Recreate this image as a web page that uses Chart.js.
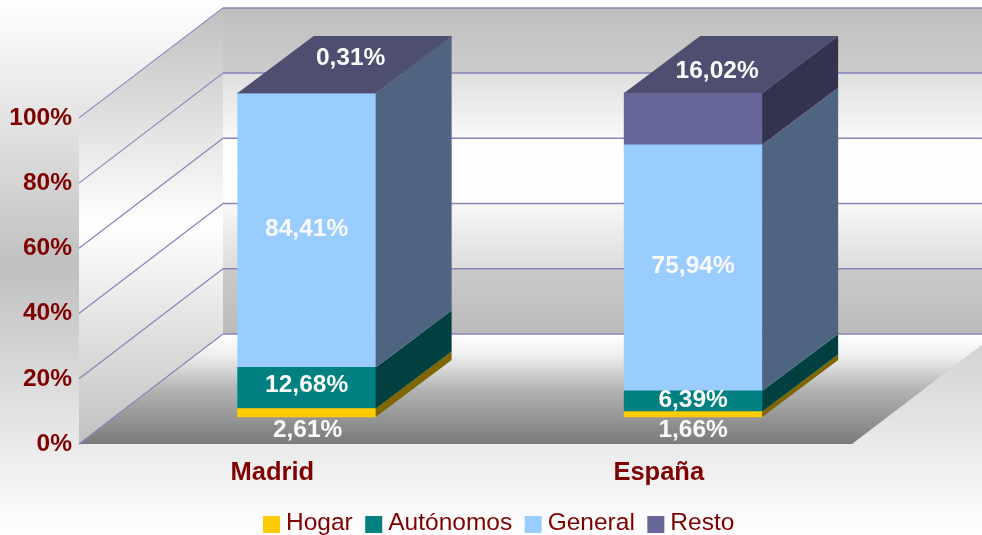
<!DOCTYPE html>
<html>
<head>
<meta charset="utf-8">
<title>Madrid / España</title>
<script src="https://cdn.jsdelivr.net/npm/chart.js@4/dist/chart.umd.min.js"></script>
<style>
    html, body { margin: 0; padding: 0; overflow: hidden; }
    body { width: 982px; height: 535px; background: linear-gradient(#ffffff 0%, #c0c0c0 50%, #ffffff 100%); }
    canvas { display: block; }
</style>
</head>
<body>
<canvas id="chart" width="982" height="535"></canvas>
<script>
// data
const categories = ["Madrid", "España"];
const tickValues = [0, 20, 40, 60, 80, 100];
const hogar = [2.61, 1.66];
const autonomos = [12.68, 6.39];
const general = [84.41, 75.94];
const resto = [0.31, 16.02];

const fontName = '"Liberation Sans"';
const fontSize = 24.5;
const darkRed = "#800000";
const gridColor = "#8585bb";

// the 3D box: how far the back wall sits from the front plane
const wallDx = 144, wallDy = -110;
// depth of a bar
const barDx = 76, barDy = -57;

function stackOf(values) {
    return values.map((v, i) => ({ x: i, y: v })); //<--- linear x axis for the bars, shifted into the box
}

const datasets = [
    { label: "Hogar", data: stackOf(hogar), backgroundColor: "#ffcc00", side: "#806600", shift: [[1, 2], [0, 2]], under: true },
    { label: "Autónomos", data: stackOf(autonomos), backgroundColor: "#008080", side: "#004040", shift: [[0, -3], [0, -1]] },
    { label: "General", data: stackOf(general), backgroundColor: "#99ccff", side: "#4f6480", shift: [[0, -1], [0, -2]] },
    { label: "Resto", data: stackOf(resto), backgroundColor: "#666699", side: "#33334f", top: "#4e4e70", shift: [[44, -35], [24, -22]], onTop: true }
];
datasets.forEach(d => {
    d.xAxisID = "xBars";
    d.yAxisID = "yBars";
    d.barThickness = 138;
    d.borderWidth = 0;
});

function poly(ctx, points, fill) {
    ctx.beginPath();
    points.forEach((p, i) => i ? ctx.lineTo(p[0], p[1]) : ctx.moveTo(p[0], p[1]));
    ctx.closePath();
    ctx.fillStyle = fill;
    ctx.fill();
}

function vGradient(ctx, y0, y1, stops) {
    const g = ctx.createLinearGradient(0, y0, 0, y1);
    stops.forEach(s => g.addColorStop(s[0], s[1]));
    return g;
}

// walls, floor and grid lines behind the bars
const box3d = {
    id: "box3d",
    beforeDatasetsDraw(chart) {
        const ctx = chart.ctx, y = chart.scales.y, a = chart.chartArea;
        const y0 = y.getPixelForValue(0), y100 = y.getPixelForValue(100);
        const backR = chart.width + 20;

        ctx.save();
        // back wall, each band has its own small jump like the original
        poly(ctx, [[a.left + wallDx, y100 + wallDy], [backR, y100 + wallDy], [backR, y0 + wallDy], [a.left + wallDx, y0 + wallDy]],
            vGradient(ctx, y100 + wallDy, y0 + wallDy, [
                [0, "#bfbfbf"], [0.2, "#cccccc"], [0.202, "#dfdfdf"], [0.4, "#f9f9f9"], [0.402, "#fdfdfd"], [0.5, "#ffffff"],
                [0.6, "#fcfcfc"], [0.602, "#f8f8f8"], [0.8, "#dcdcdc"], [0.802, "#cacaca"], [1, "#bbbbbb"]
            ]));
        // left wall
        poly(ctx, [[a.left, y100], [a.left + wallDx, y100 + wallDy], [a.left + wallDx, y0 + wallDy], [a.left, y0]],
            vGradient(ctx, y100 + wallDy, y0, [[0, "#c0c0c0"], [0.5, "#ffffff"], [1, "#c0c0c0"]]));
        // floor
        poly(ctx, [[a.left, y0], [a.right, y0], [a.right + wallDx, y0 + wallDy], [a.left + wallDx, y0 + wallDy]],
            vGradient(ctx, y0 + wallDy, y0, [[0, "#ffffff"], [0.2, "#eeeeee"], [0.5, "#b4b4b4"], [1, "#7a7a7a"]]));

        ctx.strokeStyle = gridColor;
        tickValues.forEach(t => {
            const py = y.getPixelForValue(t);
            ctx.lineWidth = 1.2;
            ctx.beginPath();
            ctx.moveTo(a.left, py);
            ctx.lineTo(a.left + wallDx, py + wallDy);
            ctx.stroke();
            ctx.lineWidth = 1.5;
            ctx.beginPath();
            ctx.moveTo(a.left + wallDx, py + wallDy);
            ctx.lineTo(backR, py + wallDy);
            ctx.stroke();
        });
        ctx.restore();
    },
    afterDatasetsDraw(chart) {
        const ctx = chart.ctx;
        ctx.save();
        // side and top faces of the bars, from the bars the library placed
        chart.data.datasets.forEach((d, i) => {
            chart.getDatasetMeta(i).data.forEach(bar => {
                const r = bar.x + bar.width / 2, l = bar.x - bar.width / 2;
                poly(ctx, [[r, bar.base], [r, bar.y], [r + barDx, bar.y + barDy], [r + barDx, bar.base + barDy]], d.side);
                if (d.top) {
                    poly(ctx, [[l, bar.y], [r, bar.y], [r + barDx, bar.y + barDy], [l + barDx, bar.y + barDy]], d.top);
                }
            });
        });

        // value labels
        ctx.font = `bold ${fontSize}px ${fontName}`;
        ctx.textAlign = "center";
        ctx.textBaseline = "middle";
        ctx.fillStyle = "#fafafa";
        chart.data.datasets.forEach((d, i) => {
            chart.getDatasetMeta(i).data.forEach((bar, j) => {
                let ly = (bar.y + bar.base) / 2;
                if (d.under) ly = bar.base + 11;
                if (d.onTop) ly = bar.y;
                const text = d.data[j].y.toFixed(2).replace(".", ",") + "%";
                ctx.fillText(text, bar.x + d.shift[j][0], ly + d.shift[j][1]);
            });
        });

        // legend, the gaps of the original are tighter than the built-in one allows
        ctx.font = `${fontSize}px ${fontName}`;
        ctx.textAlign = "left";
        let x = 263;
        chart.data.datasets.forEach(d => {
            ctx.fillStyle = d.backgroundColor;
            ctx.fillRect(x, 516, 17, 17);
            x += 23;
            ctx.fillStyle = darkRed;
            ctx.fillText(d.label, x, 523);
            x += ctx.measureText(d.label).width + 12.5;
        });
        ctx.restore();
    }
};

new Chart("chart", {
    type: "bar",
    data: { labels: categories, datasets: datasets },
    plugins: [box3d],
    options: {
        responsive: false,
        animation: false,
        layout: { padding: { top: 8, right: 130, left: 0, bottom: 0 } },
        plugins: { legend: { display: false }, tooltip: { enabled: false } },
        scales: {
            x: {
                type: "category",
                offset: true,
                grid: { display: false, drawTicks: false },
                border: { display: false },
                ticks: { color: darkRed, padding: 14, maxRotation: 0, font: { family: fontName, size: 25.5, weight: "bold" } },
                afterFit(s) { s.height = 91; s.paddingLeft = 0; s.paddingRight = 0; }
            },
            y: {
                min: 0,
                max: 133.7,
                grid: { display: false, drawTicks: false },
                border: { display: false },
                afterBuildTicks(s) { s.ticks = tickValues.map(v => ({ value: v })); },
                ticks: {
                    color: darkRed,
                    padding: 7,
                    font: { family: fontName, size: fontSize, weight: "bold" },
                    callback: v => v + "%"
                },
                afterFit(s) { s.width = 79; s.paddingTop = 0; s.paddingBottom = 0; }
            },
            // the bars stand inside the box, so they get their own hidden axes
            xBars: { type: "linear", axis: "x", display: false, stacked: true, offset: false, min: -0.589, max: 1.411 },
            yBars: { type: "linear", axis: "y", display: false, stacked: true, min: -8.33, max: 126.2 }
        }
    }
});
</script>
</body>
</html>
